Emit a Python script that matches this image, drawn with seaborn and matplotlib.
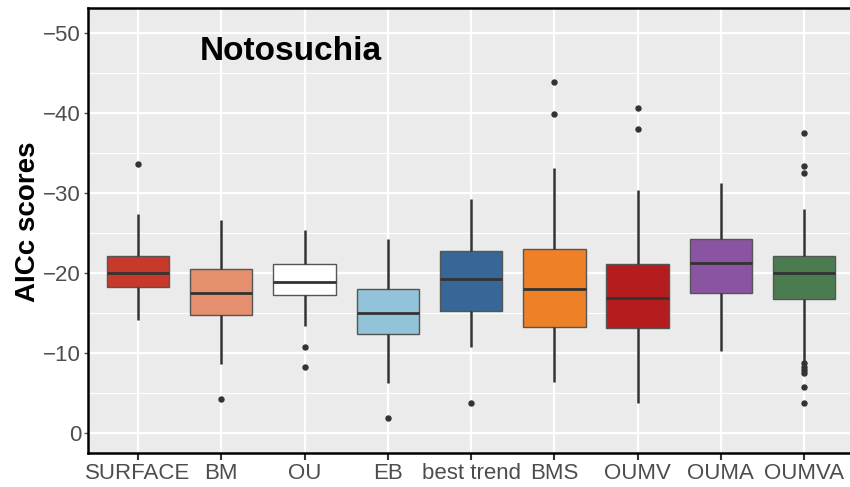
import numpy as np
import pandas as pd
import matplotlib
matplotlib.use("Agg")
import matplotlib.pyplot as plt
import seaborn as sns
from matplotlib.ticker import MultipleLocator

# Box statistics (AICc scores, more negative = higher on the plot)
models = ["SURFACE", "BM", "OU", "EB", "best trend", "BMS", "OUMV", "OUMA", "OUMVA"]
q_low = [-22.1, -20.5, -21.1, -18.0, -22.75, -22.95, -21.1, -24.2, -22.1]
medians = [-20.0, -17.5, -18.9, -15.0, -19.3, -17.95, -16.9, -21.2, -20.0]
q_high = [-18.3, -14.8, -17.2, -12.4, -15.25, -13.3, -13.1, -17.5, -16.8]
whisker_min = [-27.3, -26.6, -25.4, -24.2, -29.2, -33.1, -30.3, -31.2, -28.0]
whisker_max = [-14.1, -8.6, -13.4, -6.2, -10.7, -6.4, -3.8, -10.3, -9.0]
outliers = [
    [-33.6],
    [-4.3],
    [-10.75, -8.3],
    [-1.9],
    [-3.7],
    [-43.9, -39.8],
    [-40.6, -37.95],
    [],
    [-37.5, -33.4, -32.5, -8.7, -8.3, -7.9, -7.5, -5.7, -3.7],
]

colors = ["#C8392B", "#E58F6F", "#FFFFFF", "#93C3D8", "#376796",
          "#EE8127", "#B51C1E", "#8A54A3", "#4A7C50"]


# build a sample per model whose quartiles/whiskers/outliers reproduce the box
def build_sample(ql, md, qh, wmin, wmax, outs):
    lo = sorted(v for v in outs if v < ql)
    hi = sorted(v for v in outs if v > qh)
    m = max(len(lo), len(hi)) + 1
    vals = lo + [wmin] + [ql] * (m - 1 - len(lo))
    vals += [ql] + [md] * (m - 1) + [md] + [md] * (m - 1) + [qh]
    vals += [qh] * (m - 1 - len(hi)) + [wmax] + hi
    return vals


rows = []
for i, name in enumerate(models):
    for v in build_sample(q_low[i], medians[i], q_high[i],
                          whisker_min[i], whisker_max[i], outliers[i]):
        rows.append({"model": name, "AICc": v})
df = pd.DataFrame(rows)

sns.set_theme(style="darkgrid")
plt.rcParams["font.family"] = ["Liberation Sans", "DejaVu Sans"]

fig = plt.figure(figsize=(8.5, 4.87), dpi=100)
ax = fig.add_axes([88 / 850, 34 / 487, 1 - 88 / 850, 445 / 487])
ax.set_facecolor("#EBEBEB")

sns.boxplot(data=df, x="model", y="AICc", hue="model", order=models,
            hue_order=models, palette=dict(zip(models, colors)), legend=False,
            width=0.75, linecolor="#333333", linewidth=1.0,
            saturation=1, fliersize=3.6,
            whiskerprops={"linewidth": 1.8, "color": "#333333"},
            medianprops={"linewidth": 2.0, "color": "#333333"},
            capprops={"linewidth": 0},
            flierprops={"marker": "o", "markerfacecolor": "#333333",
                        "markeredgecolor": "#333333"},
            boxprops={"edgecolor": "#555555"},
            ax=ax)

ax.set_ylim(2.5, -53.1)
ax.set_xlim(-0.6, 8.55)
ax.yaxis.set_major_locator(MultipleLocator(10))
ax.yaxis.set_minor_locator(MultipleLocator(5))
ax.grid(which="major", color="white", linewidth=1.6)
ax.grid(which="minor", axis="y", color="white", linewidth=0.8)
ax.set_axisbelow(True)

for side in ["top", "left", "bottom"]:
    ax.spines[side].set_visible(True)
    ax.spines[side].set_color("black")
    ax.spines[side].set_linewidth(1.8)
ax.spines["right"].set_visible(False)

ax.tick_params(axis="x", which="major", length=5, width=1.5, color="#333333",
               labelsize=16, labelcolor="#4D4D4D", pad=2, bottom=True)
ax.tick_params(axis="y", which="major", length=3, width=1, color="#555555",
               labelsize=16, labelcolor="#4D4D4D", pad=2, left=True)
ax.tick_params(axis="y", which="minor", length=0)

ax.set_xlabel("")
ax.set_ylabel("")
fig.text(28 / 850, 1 - 222 / 487, "AICc scores", rotation=90, fontsize=20,
         fontweight="bold", ha="center", va="center", color="black")
ax.text(0.147, 0.903, "Notosuchia", transform=ax.transAxes, fontsize=24,
        fontweight="bold", ha="left", va="center", color="black")

fig.savefig("out.png", dpi=100)
